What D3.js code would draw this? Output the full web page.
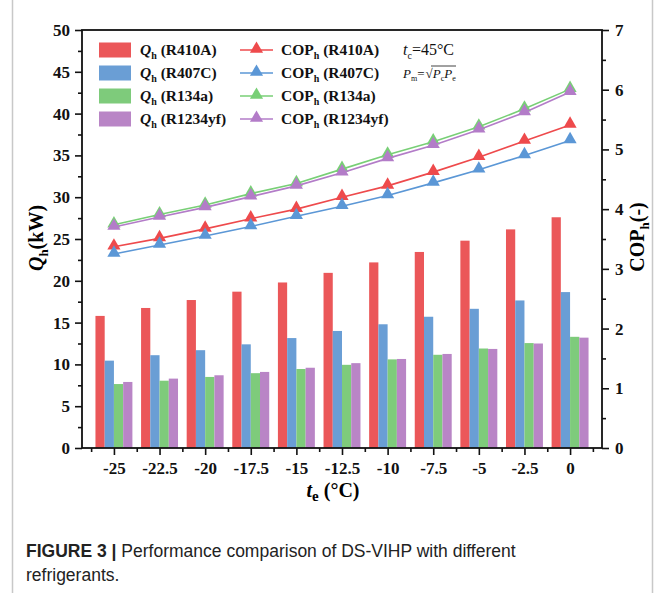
<!DOCTYPE html>
<html>
<head>
<meta charset="utf-8">
<script src="https://cdn.jsdelivr.net/npm/d3@7/dist/d3.min.js"></script>
<style>
  body { margin: 0; background: #fff; }
  svg text { font-family: "Liberation Serif", "Times New Roman", serif; }
  .caption { font-family: "Liberation Sans Narrow", "Liberation Sans", Arial, sans-serif; }
</style>
</head>
<body>
<div id="chart"></div>
<script>
// evaporating temperature (categories)
var temps = [-25, -22.5, -20, -17.5, -15, -12.5, -10, -7.5, -5, -2.5, 0];
var tickLabels = ["-25", "-22.5", "-20", "-17.5", "-15", "-12.5", "-10", "-7.5", "-5", "-2.5", "0"];
var refrigerants = ["R410A", "R407C", "R134a", "R1234yf"];

// heating capacity Qh (kW)
var qR410A   = [15.8, 16.75, 17.7, 18.7, 19.8, 20.95, 22.2, 23.45, 24.8, 26.15, 27.6];
var qR407C   = [10.45, 11.1, 11.7, 12.4, 13.15, 14.0, 14.8, 15.7, 16.65, 17.65, 18.65];
var qR134a   = [7.65, 8.05, 8.5, 8.95, 9.45, 9.95, 10.6, 11.15, 11.9, 12.55, 13.3];
var qR1234yf = [7.9, 8.3, 8.7, 9.1, 9.6, 10.15, 10.65, 11.25, 11.85, 12.5, 13.2];

// heating COP (-)
var copR410A   = [3.37, 3.51, 3.67, 3.84, 4.0, 4.2, 4.39, 4.62, 4.87, 5.14, 5.41];
var copR407C   = [3.25, 3.40, 3.55, 3.71, 3.88, 4.05, 4.23, 4.44, 4.66, 4.9, 5.15];
var copR134a   = [3.74, 3.91, 4.07, 4.26, 4.43, 4.67, 4.91, 5.13, 5.38, 5.68, 6.01];
var copR1234yf = [3.70, 3.87, 4.03, 4.21, 4.39, 4.61, 4.85, 5.07, 5.33, 5.62, 5.96];

// axis ticks
var leftTicks = [0, 5, 10, 15, 20, 25, 30, 35, 40, 45, 50];
var rightTicks = [0, 1, 2, 3, 4, 5, 6, 7];

var qSeries = [qR410A, qR407C, qR134a, qR1234yf];
var copSeries = [copR410A, copR407C, copR134a, copR1234yf];
var barColors = ["#EB5759", "#6A9ED5", "#7ECB7B", "#B985C6"];
var lineColors = ["#EE4A4C", "#5B97D6", "#78CF76", "#B37CC8"];

var W = 665, H = 593;
var plot = { left: 82, right: 602, top: 30, bottom: 448 };

var svg = d3.select("#chart").append("svg")
    .attr("width", W).attr("height", H);

var x = d3.scaleLinear().domain([-26.75, 1.75]).range([plot.left, plot.right]);
var yL = d3.scaleLinear().domain([0, 50]).range([plot.bottom, plot.top]);
var yR = d3.scaleLinear().domain([0, 7]).range([plot.bottom, plot.top]);

// page frame lines (journal layout)
svg.append("line").attr("x1", 12.5).attr("x2", 12.5).attr("y1", 0).attr("y2", H)
    .attr("stroke", "#c8c8c8").attr("stroke-width", 1.5);
svg.append("line").attr("x1", 652.5).attr("x2", 652.5).attr("y1", 0).attr("y2", H)
    .attr("stroke", "#c8c8c8").attr("stroke-width", 1.5);

// bars
var step = x(2.5) - x(0);
var groupW = step * 0.81;
var barW = groupW / 4;
var bars = svg.append("g").attr("class", "bars");
qSeries.forEach(function (vals, j) {
    bars.selectAll(".b" + j).data(vals).enter().append("rect")
        .attr("x", function (d, i) { return x(temps[i]) - groupW / 2 + j * barW; })
        .attr("y", function (d) { return yL(d); })
        .attr("width", barW)
        .attr("height", function (d) { return yL(0) - yL(d); })
        .attr("fill", barColors[j]);
});

// COP lines with triangle markers
var tri = d3.symbol().type(d3.symbolTriangle).size(75);
copSeries.forEach(function (vals, j) {
    var line = d3.line()
        .x(function (d, i) { return x(temps[i]); })
        .y(function (d) { return yR(d); });
    svg.append("path").datum(vals)
        .attr("d", line).attr("fill", "none")
        .attr("stroke", lineColors[j]).attr("stroke-width", 1.6);
    svg.selectAll(".m" + j).data(vals).enter().append("path")
        .attr("d", tri)
        .attr("transform", function (d, i) { return "translate(" + x(temps[i]) + "," + (yR(d) - 1) + ")"; })
        .attr("fill", lineColors[j]);
});

// axes
function styleAxis(g) {
    g.selectAll(".domain").remove();
    g.selectAll("line").attr("stroke", "#111").attr("stroke-width", 1.6);
    g.selectAll("text").attr("fill", "#111").style("font-size", "17px").style("font-weight", "bold");
}
var minorL = d3.range(2.5, 50, 5);
var minorR = d3.range(0.5, 7, 1);
var minorX = [-26.25].concat(temps.map(function (t) { return t + 1.25; }));

svg.append("g").attr("transform", "translate(" + plot.left + ",0)")
    .call(d3.axisLeft(yL).tickValues(leftTicks).tickSize(7).tickPadding(5).tickFormat(d3.format("d")))
    .call(styleAxis);
svg.append("g").attr("transform", "translate(" + plot.left + ",0)")
    .call(d3.axisLeft(yL).tickValues(minorL).tickSize(4).tickFormat(""))
    .call(styleAxis);
svg.append("g").attr("transform", "translate(" + plot.right + ",0)")
    .call(d3.axisRight(yR).tickValues(rightTicks).tickSize(7).tickPadding(6).tickFormat(d3.format("d")))
    .call(styleAxis);
svg.append("g").attr("transform", "translate(" + plot.right + ",0)")
    .call(d3.axisRight(yR).tickValues(minorR).tickSize(4).tickFormat(""))
    .call(styleAxis);
svg.append("g").attr("transform", "translate(0," + plot.bottom + ")")
    .call(d3.axisBottom(x).tickValues(temps).tickSize(7).tickPadding(7)
        .tickFormat(function (d, i) { return tickLabels[i]; }))
    .call(styleAxis);
svg.append("g").attr("transform", "translate(0," + plot.bottom + ")")
    .call(d3.axisBottom(x).tickValues(minorX).tickSize(4).tickFormat(""))
    .call(styleAxis);

// plot frame
svg.append("rect")
    .attr("x", plot.left).attr("y", plot.top)
    .attr("width", plot.right - plot.left).attr("height", plot.bottom - plot.top)
    .attr("fill", "none").attr("stroke", "#111").attr("stroke-width", 1.8);

// axis titles
var lt = svg.append("text").attr("transform", "translate(43,238) rotate(-90)")
    .attr("text-anchor", "middle").style("font-size", "20px").style("font-weight", "bold");
lt.append("tspan").text("Q").style("font-style", "italic");
lt.append("tspan").text("h").attr("dy", 5).style("font-size", "13px");
lt.append("tspan").text("(kW)").attr("dy", -5);

var rt = svg.append("text").attr("transform", "translate(644,237) rotate(-90)")
    .attr("text-anchor", "middle").style("font-size", "20px").style("font-weight", "bold");
rt.append("tspan").text("COP");
rt.append("tspan").text("h").attr("dy", 5).style("font-size", "13px");
rt.append("tspan").text("(-)").attr("dy", -5);

var xt = svg.append("text").attr("x", 333).attr("y", 497)
    .attr("text-anchor", "middle").style("font-size", "20px").style("font-weight", "bold");
xt.append("tspan").text("t").style("font-style", "italic");
xt.append("tspan").text("e").attr("dy", 4).style("font-size", "15px");
xt.append("tspan").text(" (°C)").attr("dy", -4);

// legend
var leg = svg.append("g").attr("class", "legend");
refrigerants.forEach(function (name, j) {
    var cy = 50 + j * 23;
    leg.append("rect").attr("x", 99).attr("y", cy - 7.5).attr("width", 32).attr("height", 15)
        .attr("fill", barColors[j]);
    var t = leg.append("text").attr("x", 140).attr("y", cy + 5)
        .style("font-size", "15.5px").style("font-weight", "bold").attr("fill", "#111");
    t.append("tspan").text("Q").style("font-style", "italic");
    t.append("tspan").text("h").attr("dy", 4).style("font-size", "10px");
    t.append("tspan").text(" (" + name + ")").attr("dy", -4);

    leg.append("line").attr("x1", 240).attr("x2", 273).attr("y1", cy).attr("y2", cy)
        .attr("stroke", lineColors[j]).attr("stroke-width", 1.6);
    leg.append("path").attr("d", tri).attr("transform", "translate(256.5," + (cy - 1) + ")")
        .attr("fill", lineColors[j]);
    var c = leg.append("text").attr("x", 281).attr("y", cy + 5)
        .style("font-size", "15.5px").style("font-weight", "bold").attr("fill", "#111");
    c.append("tspan").text("COP");
    c.append("tspan").text("h").attr("dy", 4).style("font-size", "10px");
    c.append("tspan").text(" (" + name + ")").attr("dy", -4);
});

// condition notes
var tc = svg.append("text").attr("x", 403).attr("y", 55).style("font-size", "16px").attr("fill", "#111");
tc.append("tspan").text("t").style("font-style", "italic");
tc.append("tspan").text("c").attr("dy", 4).style("font-size", "10px");
tc.append("tspan").text("=45°C").attr("dy", -4);

var pm = svg.append("text").attr("x", 403).attr("y", 78).style("font-size", "13px").attr("fill", "#111");
pm.append("tspan").text("P").style("font-style", "italic");
pm.append("tspan").text("m").attr("dy", 3).style("font-size", "8px");
pm.append("tspan").text("=").attr("dy", -3);
pm.append("tspan").text("√").attr("dx", 1);
pm.append("tspan").text("P").style("font-style", "italic");
pm.append("tspan").text("c").attr("dy", 3).style("font-size", "8px");
pm.append("tspan").text("P").attr("dy", -3).style("font-style", "italic");
pm.append("tspan").text("e").attr("dy", 3).style("font-size", "8px");
svg.append("line").attr("x1", 431).attr("x2", 456).attr("y1", 66).attr("y2", 66)
    .attr("stroke", "#111").attr("stroke-width", 0.8);

// caption
var cap = svg.append("text").attr("class", "caption").attr("x", 26).attr("y", 557)
    .style("font-size", "17.5px").attr("fill", "#222");
cap.append("tspan").text("FIGURE 3").style("font-weight", "bold");
cap.append("tspan").text(" | ").style("font-weight", "bold");
cap.append("tspan").text("Performance comparison of DS-VIHP with different");
svg.append("text").attr("class", "caption").attr("x", 26).attr("y", 581)
    .style("font-size", "17.5px").attr("fill", "#222").text("refrigerants.");
</script>
</body>
</html>
